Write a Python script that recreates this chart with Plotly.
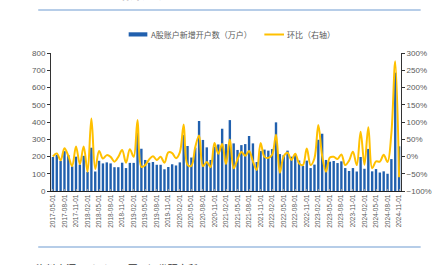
import pandas as pd
import plotly.graph_objects as go

# Categories: monthly, 2017-05 .. 2024-11
months = [d.strftime("%Y-%m-%d") for d in pd.date_range("2017-05-01", "2024-11-01", freq="MS")]
tick_labels = months[::3]

# A股账户新增开户数（万户）
accounts = [197, 210, 174, 231, 209, 143, 199, 153, 204, 111,
            251, 113, 175, 160, 166, 160, 138, 138, 164, 133,
            163, 163, 339, 245, 180, 164, 168, 152, 152, 126,
            139, 155, 148, 166, 325, 261, 194, 251, 406, 296,
            253, 180, 257, 270, 361, 272, 411, 276, 238, 266,
            272, 319, 276, 168, 232, 240, 234, 243, 398, 214,
            208, 234, 199, 212, 177, 145, 176, 133, 153, 297,
            332, 180, 170, 174, 162, 172, 133, 116, 133, 113,
            197, 129, 244, 114, 127, 107, 114, 100, 185, 686,
            259]

# 环比（%，右轴）
mom = [0, 9, -11, 24, 2, -28, 29, -22, 29, -44,
       110, -36, 16, -6, 4, -1, -15, -1, 19, -18,
       21, -1, 106, -30, -25, -9, 1, -10, -1, -18,
       12, 10, -5, 12, 93, -24, -27, 27, 61, -28,
       -16, -31, 39, 8, 36, -22, 49, -34, -8, 13,
       2, 16, -14, -39, 39, -1, -4, 5, 63, -47,
       1, 11, -10, 8, -20, -25, 23, -25, -5, 91,
       2, -44, -3, -1, -7, 6, -25, -12, 14, -25,
       72, -24, 85, -34, -14, -15, 5, -16, 67, 276,
       -60]

BAR_C = "#2160AE"
LINE_C = "#FFC000"
TXT_C = "#595959"
RULE_C = "#6F9BD1"
FONT = "Liberation Sans, Noto Sans CJK SC, sans-serif"
CJK = "Noto Sans CJK SC, sans-serif"

fig = go.Figure()
fig.add_bar(x=months, y=accounts, marker=dict(color=BAR_C, line=dict(width=0)),
            showlegend=False, yaxis="y")
fig.add_scatter(x=months, y=mom, mode="lines", yaxis="y2", showlegend=False,
                line=dict(color=LINE_C, width=2, shape="spline", smoothing=1))

# pixel -> paper helpers (plot area: x 51..407, y 53..191)
L, R, T, B = 51, 407, 53, 191
def px(x):
    return (x - L) / (R - L)
def py(y):
    return (B - y) / (B - T)

shapes = [
    dict(type="line", xref="paper", yref="paper", x0=px(38), x1=px(427), y0=py(10), y1=py(10),
         line=dict(color=RULE_C, width=1.2)),
    dict(type="line", xref="paper", yref="paper", x0=px(38), x1=px(427), y0=py(247), y1=py(247),
         line=dict(color=RULE_C, width=1.2)),
    dict(type="rect", xref="paper", yref="paper", x0=px(130), x1=px(149), y0=py(36.5), y1=py(32.3),
         fillcolor=BAR_C, line=dict(width=0)),
    dict(type="line", xref="paper", yref="paper", x0=px(268), x1=px(288), y0=py(34.5), y1=py(34.5),
         line=dict(color=LINE_C, width=2)),
]

annotations = [
    dict(text="<b>图24：A股新增开户数</b>", xref="paper", yref="paper", x=px(46), y=py(4),
         xanchor="left", yanchor="bottom", showarrow=False,
         font=dict(family=CJK, size=12, color="#333333")),
    dict(text="A股账户新增开户数（万户）", xref="paper", yref="paper", x=px(151), y=py(34.5),
         xanchor="left", yanchor="middle", showarrow=False,
         font=dict(family=CJK, size=8, color=TXT_C)),
    dict(text="环比（右轴）", xref="paper", yref="paper", x=px(289), y=py(34.5),
         xanchor="left", yanchor="middle", showarrow=False,
         font=dict(family=CJK, size=8, color=TXT_C)),
    dict(text="资料来源：Choice，国元证券研究所", xref="paper", yref="paper", x=px(34), y=py(259),
         xanchor="left", yanchor="top", showarrow=False,
         font=dict(family=CJK, size=10, color="#333333")),
]

fig.update_layout(
    width=444, height=265,
    margin=dict(l=L, r=444 - R, t=T, b=265 - B, pad=0),
    paper_bgcolor="white", plot_bgcolor="white",
    font=dict(family=FONT, color=TXT_C),
    bargap=0.38,
    shapes=shapes, annotations=annotations,
    xaxis=dict(type="category", tickmode="array", tickvals=tick_labels, ticktext=tick_labels,
               tickangle=-90, tickfont=dict(size=6.5, color=TXT_C),
               showline=True, linecolor="#222222", linewidth=1,
               ticks="inside", ticklen=2, tickcolor="#9a9a9a",
               showgrid=False, zeroline=False),
    yaxis=dict(range=[0, 800], dtick=100, tickfont=dict(size=8, color=TXT_C),
               showline=True, linecolor="#333333", linewidth=1,
               ticks="outside", ticklen=3, tickcolor="#333333",
               showgrid=False, zeroline=False),
    yaxis2=dict(range=[-100, 300], dtick=50, ticksuffix="%", overlaying="y", side="right",
                tickfont=dict(size=8, color=TXT_C),
                showline=True, linecolor="#333333", linewidth=1,
                ticks="outside", ticklen=3, tickcolor="#333333",
                showgrid=False, zeroline=False),
)

fig.write_html("out.html")
